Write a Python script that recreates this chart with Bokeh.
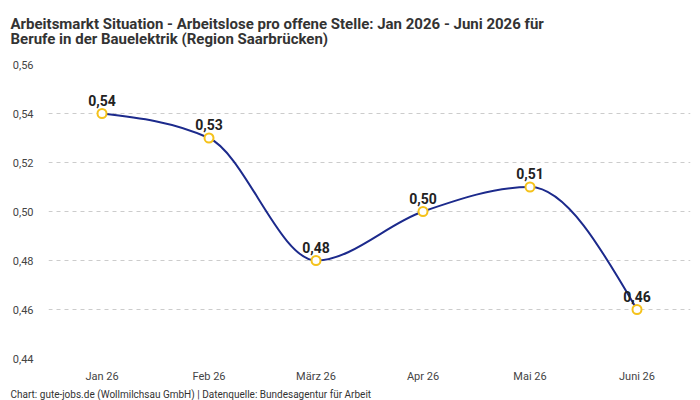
from bokeh.plotting import figure
from bokeh.models import (Range1d, FixedTicker, CustomJSTickFormatter, Title,
                          ColumnDataSource)
from bokeh.core.properties import value
from bokeh.embed import file_html
from bokeh.resources import INLINE
import numpy as np

# --- data -------------------------------------------------------------
months = ["Jan 26", "Feb 26", "März 26", "Apr 26", "Mai 26", "Juni 26"]
ratio = [0.54, 0.53, 0.48, 0.50, 0.51, 0.46]
y_ticks = [0.44, 0.46, 0.48, 0.50, 0.52, 0.54, 0.56]

title_line1 = "Arbeitsmarkt Situation - Arbeitslose pro offene Stelle: Jan 2026 - Juni 2026 für"
title_line2 = "Berufe in der Bauelektrik (Region Saarbrücken)"
footer = "Chart: gute-jobs.de (Wollmilchsau GmbH) | Datenquelle: Bundesagentur für Arbeit"

LINE = "#1c2a8c"
MARK = "#f5c21b"
FONT = "Roboto"

xs = np.arange(len(months), dtype=float)
ys = np.array(ratio, dtype=float)

# monotone cubic tangents (same scheme as d3.curveMonotoneX)
n = len(xs)
h = np.diff(xs)
s = np.diff(ys) / h
t = np.zeros(n)
for i in range(1, n - 1):
    p_ = (s[i - 1] * h[i] + s[i] * h[i - 1]) / (h[i - 1] + h[i])
    t[i] = (np.sign(s[i - 1]) + np.sign(s[i])) * min(abs(s[i - 1]), abs(s[i]), 0.5 * abs(p_))
t[0] = (3 * s[0] - t[1]) / 2
t[-1] = (3 * s[-1] - t[-2]) / 2

dx = h / 3
seg = ColumnDataSource(dict(
    x0=xs[:-1], y0=ys[:-1], x1=xs[1:], y1=ys[1:],
    cx0=xs[:-1] + dx, cy0=ys[:-1] + dx * t[:-1],
    cx1=xs[1:] - dx, cy1=ys[1:] - dx * t[1:],
))

labels = [f"{v:.2f}".replace(".", ",") for v in ratio]
pts = ColumnDataSource(dict(x=xs, y=ys, label=labels))

p = figure(width=700, height=400, output_backend="svg", toolbar_location=None,
           x_range=Range1d(-0.5, len(months) - 0.5), y_range=Range1d(0.44, 0.56),
           min_border_left=48, min_border_right=10, min_border_top=0, min_border_bottom=4)
p.outline_line_color = None
p.background_fill_color = "white"

# two-line heading
p.title.text = title_line1 + "\n" + title_line2
p.title.text_font = FONT
p.title.text_font_size = "15px"
p.title.text_font_style = "bold"
p.title.text_color = "#333333"
p.title.text_line_height = 0.85
p.title.padding = 0
p.title.vertical_align = "top"
p.title.offset = -38
p.title.standoff = 29
p.add_layout(Title(text=footer, text_font=FONT, text_font_size="10px",
                   text_font_style="normal", text_color="#333333", offset=-38, standoff=2), "below")

# axes
p.xaxis.ticker = FixedTicker(ticks=list(xs))
p.xaxis.major_label_overrides = {float(i): m for i, m in enumerate(months)}
p.yaxis.ticker = FixedTicker(ticks=y_ticks)
p.yaxis.formatter = CustomJSTickFormatter(code="return tick.toFixed(2).replace('.', ',');")
for ax in (p.xaxis[0], p.yaxis[0]):
    ax.axis_line_color = None
    ax.major_tick_line_color = None
    ax.minor_tick_line_color = None
    ax.major_label_text_font = FONT
    ax.major_label_text_font_size = "11px"
    ax.major_label_text_color = "#444444"
p.yaxis.major_label_standoff = 9
p.xaxis.major_label_standoff = 5

p.xgrid.grid_line_color = None
p.ygrid.grid_line_color = "#cccccc"
p.ygrid.grid_line_dash = "4 4"
p.ygrid.grid_line_width = 1

# smooth line
p.bezier(x0="x0", y0="y0", x1="x1", y1="y1", cx0="cx0", cy0="cy0", cx1="cx1", cy1="cy1",
         source=seg, line_color=LINE, line_width=2)

# markers
p.scatter("x", "y", source=pts, size=9, fill_color="white", line_color=MARK, line_width=2)

# value labels
p.text("x", "y", text="label", source=pts, text_align="center", text_baseline="bottom",
       y_offset=-8, text_font=value(FONT), text_font_size="14px", text_font_style="bold",
       text_color="#222222")

open("out.html", "w").write(file_html(p, INLINE))
